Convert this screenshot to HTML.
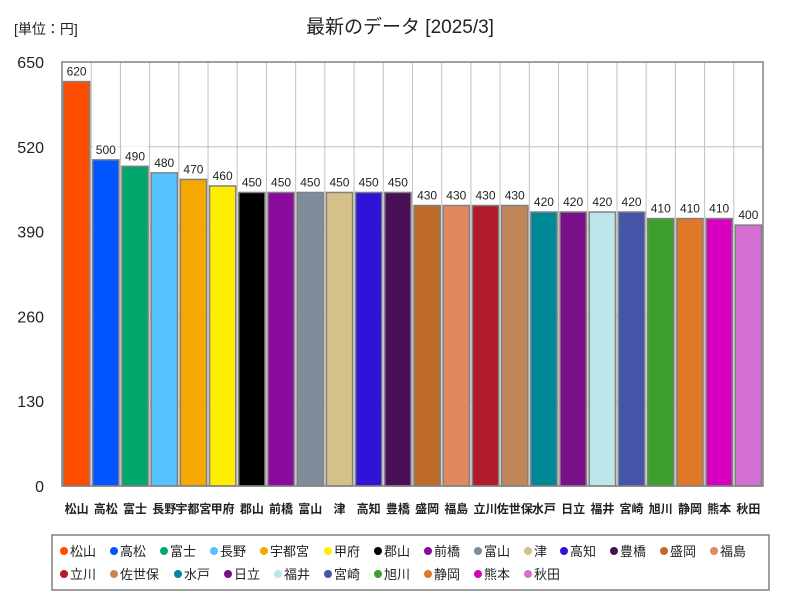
<!DOCTYPE html>
<html><head><meta charset="utf-8"><style>
body{margin:0;background:#fff;font-family:"Liberation Sans","Noto Sans CJK JP",sans-serif;}
</style></head><body>
<svg id="c" width="800" height="600" xmlns="http://www.w3.org/2000/svg" font-family="Liberation Sans, Noto Sans CJK JP, sans-serif"></svg>
<script>
const categories=["松山","高松","富士","長野","宇都宮","甲府","郡山","前橋","富山","津","高知","豊橋","盛岡","福島","立川","佐世保","水戸","日立","福井","宮崎","旭川","静岡","熊本","秋田"];
const values=[620,500,490,480,470,460,450,450,450,450,450,450,430,430,430,430,420,420,420,420,410,410,410,400];
const colors=["#ff4d00","#0055ff","#00a86b","#55c3ff","#f5a800","#ffee00","#000000","#8b0a9e","#7f8c99","#d4c088","#2d14d6","#4a0e56","#c06a2a","#e08860","#b01c2c","#c0875a","#008896","#7a0f8a","#bde6ea","#4455a8","#3ea02c","#e07828","#d800c0","#d470d4"];
const yTicks=[0,130,260,390,520,650];
const svg=document.getElementById('c');const NS='http://www.w3.org/2000/svg';
function mk(t,a,p){const e=document.createElementNS(NS,t);for(const k in a)e.setAttribute(k,a[k]);(p||svg).appendChild(e);return e;}
const L=62,R=763,T=62,B=486,yMax=650;
const y=v=>B-(v/yMax)*(B-T);
const slot=(R-L)/categories.length;
const x=i=>L+i*slot;
let t=mk('text',{x:400,y:33,'text-anchor':'middle','font-size':19,fill:'#222'});t.textContent='最新のデータ [2025/3]';

t=mk('text',{x:14,y:34,'font-size':14,fill:'#222'});t.textContent='[単位：円]';

yTicks.forEach(v=>{const g=mk('line',{x1:L,x2:R,y1:y(v),y2:y(v),stroke:'#c0c0c0'});

const l=mk('text',{x:44,y:y(v)+6,'text-anchor':'end','font-size':16,fill:'#222'});l.textContent=v;
});
categories.forEach((c,i)=>{const g=mk('line',{x1:x(i),x2:x(i),y1:T,y2:B,stroke:'#c0c0c0'});
});
categories.forEach((c,i)=>{const v=values[i];
const r=mk('rect',{x:x(i)+1.5,y:y(v),width:slot-3,height:B-y(v),fill:colors[i],stroke:'#808080','stroke-width':1.5});

const bw=26,bx=x(i)+slot/2-bw/2;
const bg=mk('rect',{x:bx,y:y(v)-20,width:bw,height:18,fill:'#fff'});

const vl=mk('text',{x:x(i)+slot/2,y:y(v)-6,'text-anchor':'middle','font-size':12,fill:'#222'});vl.textContent=v;

const cl=mk('text',{x:x(i)+slot/2,y:513,'text-anchor':'middle','font-size':12,'font-weight':'bold',fill:'#222'});cl.textContent=c;
});
const fr=mk('rect',{x:L,y:T,width:R-L,height:B-T,fill:'none',stroke:'#808080','stroke-width':1.5});

const lg=mk('rect',{x:52,y:535,width:717,height:55,fill:'#fff',stroke:'#808080','stroke-width':1.5});

let lx=57,ly=551;
categories.forEach((c,i)=>{if(i===14){lx=57;ly=574;}
const g=mk('g',{});
mk('circle',{cx:lx+7,cy:ly,r:4,fill:colors[i]},g);
const tx=mk('text',{x:lx+13,y:ly+5,'font-size':13,fill:'#222'},g);tx.textContent=c;
lx+=13+c.length*14+9;});
</script>
</body></html>
